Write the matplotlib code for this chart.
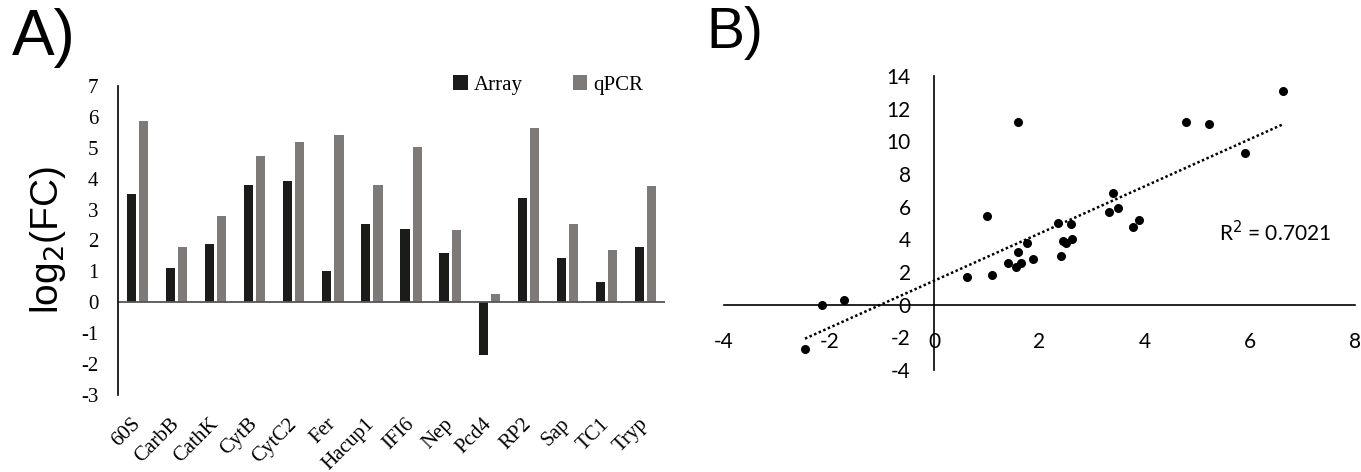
import numpy as np
import matplotlib
matplotlib.use("Agg")
import matplotlib.pyplot as plt

genes = ["60S", "CarbB", "CathK", "CytB", "CytC2", "Fer", "Hacup1", "IFI6",
         "Nep", "Pcd4", "RP2", "Sap", "TC1", "Tryp"]
array_fc = [3.52, 1.12, 1.88, 3.80, 3.93, 1.01, 2.52, 2.37, 1.58, -1.72, 3.36, 1.42, 0.65, 1.80]
qpcr_fc = [5.87, 1.79, 2.79, 4.75, 5.20, 5.40, 3.80, 5.01, 2.34, 0.26, 5.65, 2.52, 1.68, 3.77]

# panel B: array log2FC (x) vs qPCR log2FC (y)
scatter_x = [-2.46, -2.13, -1.72, 0.62, 1.09, 1.00, 1.41, 1.56, 1.65, 1.60, 1.77, 1.87,
             1.60, 2.35, 2.41, 2.45, 2.50, 2.59, 2.62, 3.39, 3.33, 3.49, 3.78, 3.90,
             4.79, 5.22, 5.90, 6.63]
scatter_y = [-2.74, -0.02, 0.30, 1.69, 1.79, 5.41, 2.54, 2.32, 2.58, 3.23, 3.80, 2.78,
             11.18, 5.02, 3.01, 3.90, 3.78, 4.92, 4.00, 6.83, 5.65, 5.89, 4.76, 5.20,
             11.20, 11.06, 9.29, 13.09]
r2_text = "R$^2$ = 0.7021"

plt.rcParams["axes.unicode_minus"] = False
serif = "Liberation Serif"
sans = "Liberation Sans"
calib = "Lato"

fig = plt.figure(figsize=(13.61, 4.72), dpi=100)

# ---- panel A ----
ax = fig.add_axes([118 / 1361, 1 - 395 / 472, 547 / 1361, 309 / 472])
idx = np.arange(len(genes))
w = 0.235
ax.bar(idx - 0.155, array_fc, w, color="#1b1b19", label="Array")
ax.bar(idx + 0.155, qpcr_fc, w, color="#7e7a78", label="qPCR")
ax.set_xlim(-0.5, len(genes) - 0.5)
ax.set_ylim(-3, 7)
ax.set_yticks(range(-3, 8))
ax.axhline(0, color="#555555", lw=1.3)
for s in ["top", "right", "bottom"]:
    ax.spines[s].set_visible(False)
ax.spines["left"].set_linewidth(1.2)
ax.set_xticks(idx)
ax.set_xticklabels(genes, rotation=45, ha="right", va="center",
                   rotation_mode="anchor", fontfamily=serif, fontsize=15)
ax.tick_params(axis="x", length=0, pad=19)
ax.tick_params(axis="y", length=0, pad=14)
for t in ax.get_yticklabels():
    t.set_fontfamily(serif)
    t.set_fontsize(15)
ax.legend(loc="upper right", bbox_to_anchor=(0.995, 1.095), ncol=2, frameon=False,
          prop={"family": serif, "size": 15}, handlelength=0.7, handleheight=0.7,
          handletextpad=0.3, columnspacing=2.4)
fig.text(48 / 1361, 1 - 240 / 472, r"log$_2$(FC)", rotation=90, ha="center", va="center",
         fontfamily=sans, fontsize=28)
fig.text(12 / 1361, 1 - 8 / 472, "A)", ha="left", va="top", fontfamily=sans, fontsize=46)

# ---- panel B ----
bx = fig.add_axes([724 / 1361, 1 - 370 / 472, 631 / 1361, 294 / 472])
bx.set_xlim(-4, 8)
bx.set_ylim(-4, 14)
bx.scatter(scatter_x, scatter_y, s=30, color="black", zorder=3)
k, b = np.polyfit(scatter_x, scatter_y, 1)
fx = np.array([min(scatter_x), max(scatter_x)])
bx.plot(fx, k * fx + b, color="black", lw=1.8, ls=(0, (1, 1)))
for s in ["top", "right"]:
    bx.spines[s].set_visible(False)
bx.spines["left"].set_position(("data", 0))
bx.spines["bottom"].set_position(("data", 0))
bx.spines["left"].set_linewidth(1.2)
bx.spines["bottom"].set_linewidth(1.2)
bx.set_xticks(range(-4, 9, 2))
bx.set_yticks(range(-4, 15, 2))
bx.tick_params(axis="x", length=0, pad=20)
bx.tick_params(axis="y", length=0, pad=17)
for t in bx.get_xticklabels() + bx.get_yticklabels():
    t.set_fontfamily(calib)
    t.set_fontsize(15)
bx.text(7.55, 4.4, r2_text, ha="right", va="center", fontfamily=calib, fontsize=15)
fig.text(706 / 1361, 1 - 6 / 472, "B)", ha="left", va="top", fontfamily=sans, fontsize=41)

fig.savefig("out.png", dpi=100)
